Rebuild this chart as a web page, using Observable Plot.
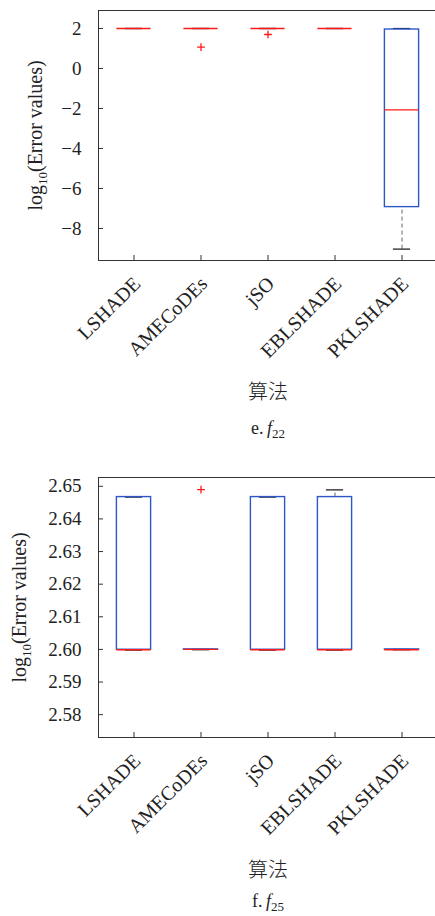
<!DOCTYPE html>
<html>
<head>
<meta charset="utf-8">
<script src="https://cdn.jsdelivr.net/npm/d3@7"></script>
<script src="https://cdn.jsdelivr.net/npm/@observablehq/plot@0.6"></script>
<style>
  html, body { margin: 0; padding: 0; background: #fff; overflow: hidden; }
  svg { display: block; }
</style>
</head>
<body>
<div id="chart"></div>
<script>
// ---- Data ----
const algorithms = ["LSHADE", "AMECoDEs", "jSO", "EBLSHADE", "PKLSHADE"];

// e. f22
const f22Q1 = [2.0, 2.0, 2.0, 2.0, -6.93];
const f22Q3 = [2.0, 2.0, 2.0, 2.0, 1.95];
const f22Median = [2.0, 2.0, 2.0, 2.0, -2.07];
const f22WhiskerLow = [2.0, 2.0, 2.0, 2.0, -9.03];
const f22WhiskerHigh = [2.0, 2.0, 2.0, 2.0, 2.0];
const f22OutlierAlg = ["AMECoDEs", "jSO"];
const f22OutlierValue = [1.07, 1.7];
const f22Ticks = [-8, -6, -4, -2, 0, 2];

// f. f25
const f25Q1 = [2.5999, 2.5999, 2.5999, 2.5999, 2.5999];
const f25Q3 = [2.6467, 2.6000, 2.6467, 2.6467, 2.6000];
const f25Median = [2.5999, 2.6000, 2.5999, 2.5999, 2.5999];
const f25WhiskerLow = [2.5998, 2.5999, 2.5998, 2.5998, 2.5999];
const f25WhiskerHigh = [2.6467, 2.6000, 2.6467, 2.6489, 2.6000];
const f25OutlierAlg = ["AMECoDEs"];
const f25OutlierValue = [2.649];
const f25Ticks = [2.58, 2.59, 2.60, 2.61, 2.62, 2.63, 2.64, 2.65];

const xLabel = "算法";

// ---- Drawing ----
const SERIF = "'Liberation Serif', 'Times New Roman', serif";
const TEXT = "#222";
const BLUE = "#2b58c4";
const RED = "#ff1a1a";

function boxChart(o) {
  const W = 440, ML = 98, MR = 3;
  const plotW = W - ML - MR;
  const plotH = o.height - o.marginTop - o.marginBottom;
  const step = plotW / algorithms.length;
  const boxInset = (step - 35) / 2;
  const capInset = (step - 18) / 2;
  const rows = algorithms.map((a, i) => ({
    alg: a, q1: o.q1[i], q3: o.q3[i], med: o.med[i], lo: o.lo[i], hi: o.hi[i]
  }));
  const outliers = o.outAlg.map((a, i) => ({alg: a, v: o.outVal[i]}));
  const svg = Plot.plot({
    width: W, height: o.height,
    marginLeft: ML, marginRight: MR, marginTop: o.marginTop, marginBottom: o.marginBottom,
    style: {fontFamily: SERIF, maxWidth: "none", background: "#fff"},
    x: {type: "band", domain: algorithms, padding: 0, axis: null},
    y: {domain: o.yDomain, nice: false, axis: null},
    marks: [
      // whiskers
      Plot.ruleX(rows, {x: "alg", y1: "q3", y2: "hi", stroke: "#666", strokeWidth: 1, strokeDasharray: "4,3"}),
      Plot.ruleX(rows, {x: "alg", y1: "lo", y2: "q1", stroke: "#666", strokeWidth: 1, strokeDasharray: "4,3"}),
      Plot.tickY(rows, {x: "alg", y: "hi", stroke: "#111", strokeWidth: 1.2, insetLeft: capInset, insetRight: capInset}),
      Plot.tickY(rows, {x: "alg", y: "lo", stroke: "#111", strokeWidth: 1.2, insetLeft: capInset, insetRight: capInset}),
      // boxes
      Plot.barY(rows, {x: "alg", y1: "q1", y2: "q3", fill: "none", stroke: BLUE, strokeWidth: 1.4, insetLeft: boxInset, insetRight: boxInset}),
      // medians
      Plot.tickY(rows, {x: "alg", y: "med", stroke: RED, strokeWidth: 1.3, insetLeft: boxInset, insetRight: boxInset}),
      // outliers
      Plot.dot(outliers, {x: "alg", y: "v", symbol: "plus", r: 2.6, stroke: RED, strokeWidth: 1.3}),
      // frame
      Plot.frame({stroke: "#333", strokeWidth: 1}),
      // y ticks (inward)
      Plot.tickY(o.yTicks, {y: d => d, stroke: "#333", insetRight: plotW - 5}),
      Plot.text(o.yTicks, {y: d => d, text: o.tickFormat, frameAnchor: "left", textAnchor: "end", lineAnchor: "middle", dx: -17, fontSize: 19, fill: TEXT}),
      // x ticks (inward)
      Plot.tickX(algorithms, {x: d => d, stroke: "#333", insetTop: plotH - 5}),
      Plot.text(algorithms, {x: d => d, text: d => d, frameAnchor: "bottom", rotate: -45, textAnchor: "end", lineAnchor: "middle", dx: 3, dy: 20, fontSize: 20, fill: TEXT}),
      // y label
      Plot.text(["log10(Error values)"], {frameAnchor: "left", rotate: -90, textAnchor: "middle", lineAnchor: "middle", dx: o.yLabelDx, fontSize: 20, fill: TEXT, text: d => d}),
      // x label and caption
      Plot.text([xLabel], {frameAnchor: "bottom", lineAnchor: "middle", textAnchor: "middle", dy: o.xLabelDy, fontSize: 20, fill: TEXT, fontFamily: "'Noto Sans CJK SC', sans-serif", fontWeight: 300, text: d => d}),
      Plot.text([o.caption], {frameAnchor: "bottom", lineAnchor: "middle", textAnchor: "middle", dy: o.captionDy, fontSize: 18, fill: TEXT, text: d => d})
    ]
  });
  // rich text: subscripts and italics
  const NS = "http://www.w3.org/2000/svg";
  function span(parent, txt, attrs) {
    const s = document.createElementNS(NS, "tspan");
    s.textContent = txt;
    for (const k in attrs) s.setAttribute(k, attrs[k]);
    parent.appendChild(s);
  }
  for (const t of svg.querySelectorAll("text")) {
    const c = t.textContent;
    if (c === "log10(Error values)") {
      t.textContent = "";
      span(t, "log", {});
      span(t, "10", {"font-size": 13, dy: 5});
      span(t, "(Error values)", {dy: -5});
    } else if (c === o.caption) {
      t.textContent = "";
      span(t, o.captionPrefix + "\u2009", {});
      span(t, "f", {"font-style": "italic"});
      span(t, o.captionSub, {"font-size": 13, dy: 4});
    }
  }
  return svg;
}

const root = document.getElementById("chart");
root.appendChild(boxChart({
  q1: f22Q1, q3: f22Q3, med: f22Median, lo: f22WhiskerLow, hi: f22WhiskerHigh,
  outAlg: f22OutlierAlg, outVal: f22OutlierValue,
  yDomain: [-9.6, 2.9], yTicks: f22Ticks, tickFormat: d3.format("d"),
  height: 470, marginTop: 10, marginBottom: 210,
  yLabelDx: -63, xLabelDy: 132, captionDy: 168,
  caption: "e. f22", captionPrefix: "e.", captionSub: "22"
}));
root.appendChild(boxChart({
  q1: f25Q1, q3: f25Q3, med: f25Median, lo: f25WhiskerLow, hi: f25WhiskerHigh,
  outAlg: f25OutlierAlg, outVal: f25OutlierValue,
  yDomain: [2.573, 2.6527], yTicks: f25Ticks, tickFormat: d3.format(".2f"),
  height: 446, marginTop: 7, marginBottom: 179,
  yLabelDx: -79, xLabelDy: 133, captionDy: 164,
  caption: "f. f25", captionPrefix: "f.", captionSub: "25"
}));
</script>
</body>
</html>
